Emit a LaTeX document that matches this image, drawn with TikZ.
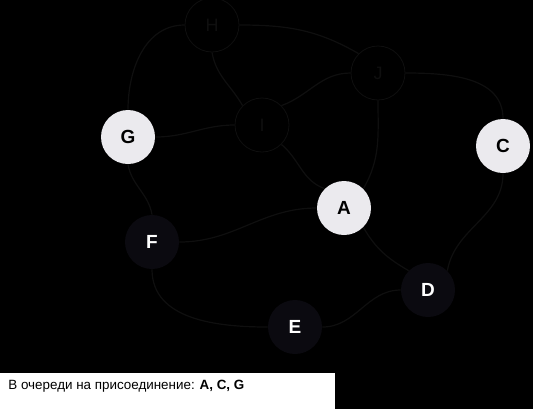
\documentclass[tikz,border=0pt]{standalone}
\usepackage{fontspec}
\setmainfont{Liberation Sans}
\usetikzlibrary{positioning}

\definecolor{vlight}{HTML}{EBEAEE}
\definecolor{vdark}{HTML}{0B0A10}
\definecolor{ghost}{HTML}{0F0F0F}
\definecolor{wire}{HTML}{0F0F0F}

\tikzset{
  vert/.style={circle, minimum size=27pt, inner sep=0pt, font=\bfseries\fontsize{9.5}{9.5}\selectfont},
  joined/.style={vert, fill=vlight, text=black},
  waiting/.style={vert, fill=vdark, text=white},
  unseen/.style={vert, fill=black, draw=ghost, text=ghost, font=\fontsize{9}{9}\selectfont},
  wireline/.style={draw=wire, line width=0.6pt}
}

\begin{document}
\begin{tikzpicture}[x=0.5pt,y=-0.5pt]
  \fill[black] (0,0) rectangle (533,409);
  \useasboundingbox (0,0) rectangle (533,409);

  \node[unseen] (h) at (212,25) {H};
  \node[unseen] (j) at (378,73) {J};
  \node[unseen] (i) at (262,125) {I};
  \node[joined] (g) at (128,137) {G};
  \node[joined] (c) at (503,146) {C};
  \node[joined] (a) at (344,208) {A};
  \node[waiting] (f) at (152,242) {F};
  \node[waiting] (d) at (428,290) {D};
  \node[waiting] (e) at (295,327) {E};

  \path[wireline]
    (g.north) edge [out=90, in=180] (h.west)
    (h.east) edge [out=0, in=150] (j.north west)
    (h.south) edge [out=-80, in=120] (i.north west)
    (i.north east) edge [out=20, in=180] (j.west)
    (g.east) edge [out=0, in=180] (i.west)
    (j.south) edge [out=-90, in=60] (a.north east)
    (j.east) edge [out=0, in=90] (c.north)
    (i.south east) edge [out=-40, in=160] (a.north west)
    (g.south) edge [out=-80, in=100] (f.north)
    (f.east) edge [out=0, in=180] (a.west)
    (f.south) edge [out=-90, in=180] (e.west)
    (e.east) edge [out=0, in=180] (d.west)
    (a.south east) edge [out=-60, in=150] (d.north west)
    (c.south) edge [out=-90, in=80] (d.north east);

  % caption
  \fill[white] (0,373) rectangle (335,409);
  \node[anchor=west, inner sep=0pt, font=\fontsize{6.7}{6.7}\selectfont] (queue) at (8,386)
    {В очереди на присоединение: \textbf{A, C, G}};
\end{tikzpicture}
\end{document}
